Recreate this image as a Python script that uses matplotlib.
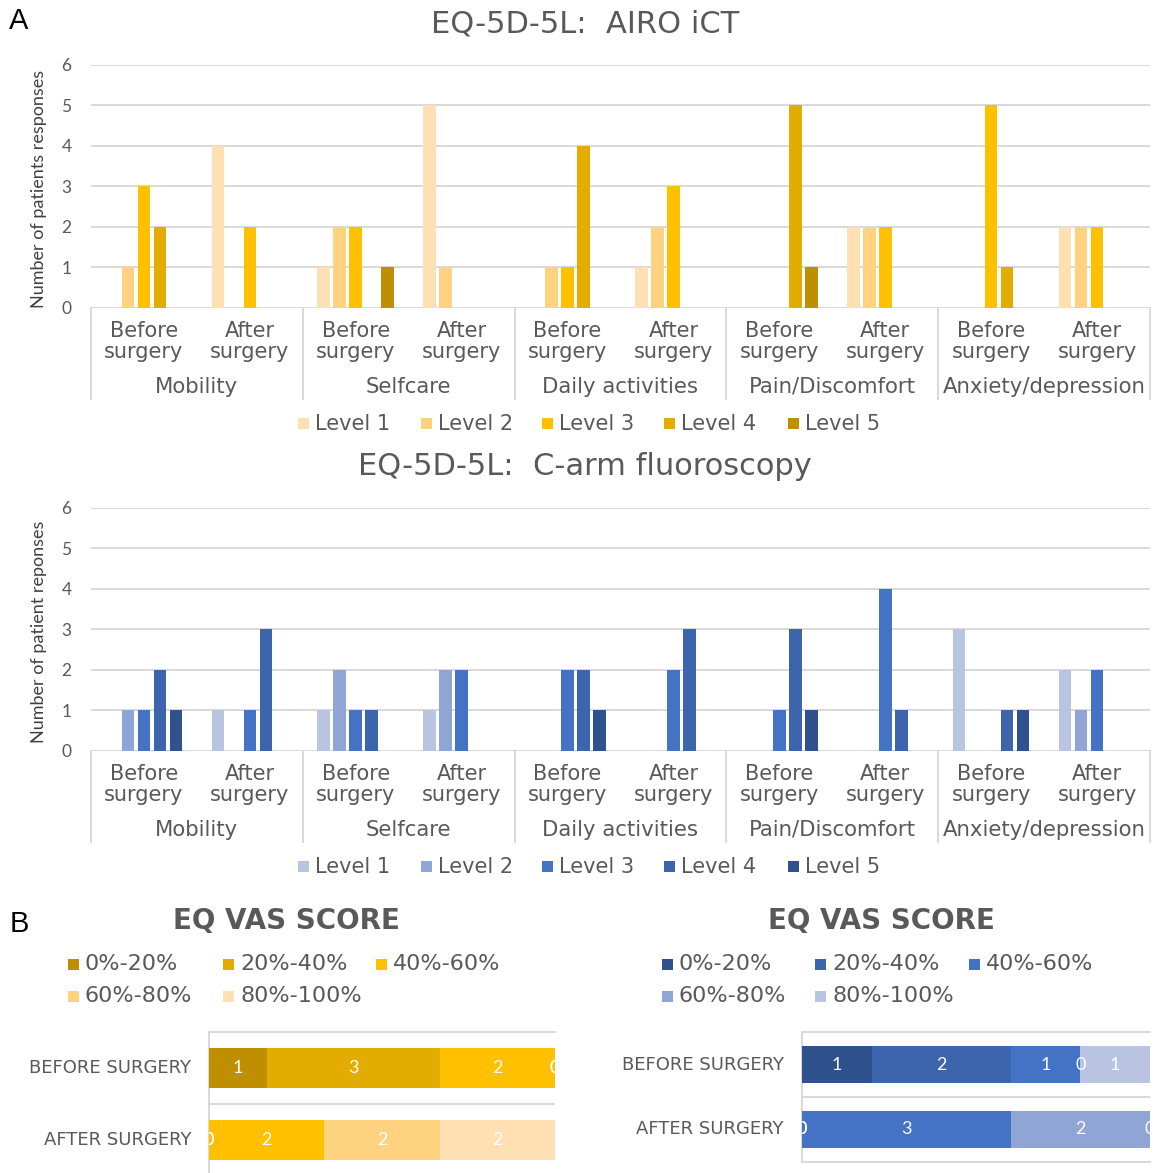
import matplotlib
matplotlib.use("Agg")
import matplotlib.pyplot as plt
import matplotlib.transforms as mtransforms
from matplotlib.patches import Rectangle
from matplotlib.lines import Line2D
import numpy as np

# ---------------------------------------------------------------- data
dimensions = ["Mobility", "Selfcare", "Daily activities", "Pain/Discomfort", "Anxiety/depression"]
timepoints = ["Before\nsurgery", "After\nsurgery"]
levels = ["Level 1", "Level 2", "Level 3", "Level 4", "Level 5"]

# counts per (dimension, timepoint) pair, in the order Mobility-Before, Mobility-After, ...
airo_level1 = [0, 4, 1, 5, 0, 1, 0, 2, 0, 2]
airo_level2 = [1, 0, 2, 1, 1, 2, 0, 2, 0, 2]
airo_level3 = [3, 2, 2, 0, 1, 3, 0, 2, 5, 2]
airo_level4 = [2, 0, 0, 0, 4, 0, 5, 0, 1, 0]
airo_level5 = [0, 0, 1, 0, 0, 0, 1, 0, 0, 0]

carm_level1 = [0, 1, 1, 1, 0, 0, 0, 0, 3, 2]
carm_level2 = [1, 0, 2, 2, 0, 0, 0, 0, 0, 1]
carm_level3 = [1, 1, 1, 2, 2, 2, 1, 4, 0, 2]
carm_level4 = [2, 3, 1, 0, 2, 3, 3, 1, 1, 0]
carm_level5 = [1, 0, 0, 0, 1, 0, 1, 0, 1, 0]

vas_bins = ["0%-20%", "20%-40%", "40%-60%", "60%-80%", "80%-100%"]
vas_rows = ["BEFORE SURGERY", "AFTER SURGERY"]
airo_vas_before = [1, 3, 2, 0, 0]
airo_vas_after = [0, 0, 2, 2, 2]
carm_vas_before = [1, 2, 1, 0, 1]
carm_vas_after = [0, 0, 3, 2, 0]

# ---------------------------------------------------------------- style
GOLD = ["#FFE0B3", "#FFD280", "#FFC000", "#E2AC00", "#BF8F00"]
BLUE = ["#B9C3E2", "#8FA5D5", "#4472C4", "#3C65AE", "#2F528F"]
TXT = "#595959"
GRID = "#D9D9D9"
CAL = ["Lato", "DejaVu Sans"]

W, H = 1155, 1173
fig = plt.figure(figsize=(W / 100, H / 100), dpi=100)
fig.patch.set_facecolor("white")


def px_axes(left, top, right, bottom):
    return fig.add_axes([left / W, 1 - bottom / H, (right - left) / W, (bottom - top) / H])


def fxy(x, y):
    return x / W, 1 - y / H


def legend_row(x_squares, y, labels, colors, size, fontsize):
    for xs, lab, col in zip(x_squares, labels, colors):
        fig.add_artist(Rectangle(fxy(xs, y + size / 2), size / W, size / H,
                                 transform=fig.transFigure, color=col, lw=0))
        fig.text(*fxy(xs + size + 6, y), lab, ha="left", va="center",
                 color=TXT, fontsize=fontsize)


def eq5d_panel(top, title, ylabel, series, colors):
    bottom = top + 243
    ax = px_axes(91, top, 1150, bottom)
    n = len(dimensions) * len(timepoints)
    x = np.arange(n)
    slot = 16 / 106
    bw = 12.6 / 106
    for i, (vals, col) in enumerate(zip(series, colors)):
        ax.bar(x + (i - 2) * slot, vals, width=bw, color=col, lw=0, zorder=3)
    ax.set_xlim(-0.5, n - 0.5)
    ax.set_ylim(0, 6)
    ax.set_yticks(range(7))
    ax.set_xticks([])
    ax.grid(axis="y", color=GRID, lw=1.4, zorder=0)
    ax.tick_params(axis="y", length=0, pad=14, labelcolor=TXT, labelsize=12.5)
    for lab in ax.get_yticklabels():
        lab.set_family(CAL)
    for s in ax.spines.values():
        s.set_visible(False)

    trans = mtransforms.blended_transform_factory(ax.transData, fig.transFigure)
    for j in range(n):
        ax.text(j, 1 - (bottom + 34) / H, timepoints[j % 2], transform=trans,
                ha="center", va="center", color=TXT, fontsize=15, linespacing=1.05)
    for k, dim in enumerate(dimensions):
        ax.text(2 * k + 0.5, 1 - (bottom + 79) / H, dim, transform=trans,
                ha="center", va="center", color=TXT, fontsize=15.3)
    for k in range(len(dimensions) + 1):
        xb = 2 * k - 0.5
        fig.add_artist(Line2D([xb, xb], [1 - bottom / H, 1 - (bottom + 91) / H],
                              transform=trans, color=GRID, lw=1.4))

    fig.text(*fxy(585, top - 41), title, ha="center", va="center",
             color=TXT, fontsize=22)
    fig.text(*fxy(39, top + 124), ylabel, rotation=90, ha="center", va="center",
             color="#404040", fontsize=13, family=CAL)
    legend_row([298, 421, 542, 664, 788], bottom + 116, levels, colors, 11, 15)


eq5d_panel(64.7, "EQ-5D-5L:  AIRO iCT", "Number of patients responses",
           [airo_level1, airo_level2, airo_level3, airo_level4, airo_level5], GOLD)
eq5d_panel(507.7, "EQ-5D-5L:  C-arm fluoroscopy", "Number of patient reponses",
           [carm_level1, carm_level2, carm_level3, carm_level4, carm_level5], BLUE)


def vas_panel(left, right, top, row_h, xmax, before, after, colors,
              title_x, label_right, legend_x1, legend_x2):
    ax = px_axes(left, top, right, top + 2 * row_h)
    dark_first = colors[::-1]
    for ypos, vals in ((1, before), (0, after)):
        start = np.concatenate([[0], np.cumsum(vals)[:-1]])
        ax.barh([ypos] * len(vals), vals, left=start, height=0.56,
                color=dark_first, lw=0, zorder=3)
        for s0, v in zip(start, vals):
            ax.text(s0 + v / 2, ypos, str(v), ha="center", va="center",
                    color="white", fontsize=13, family=CAL, clip_on=True, zorder=4)
    ax.set_xlim(0, xmax)
    ax.set_ylim(-0.5, 1.5)
    ax.set_xticks([])
    ax.set_yticks([])
    ax.axhline(0.5, color=GRID, lw=1.4, zorder=1)
    for side in ("left", "top", "bottom"):
        ax.spines[side].set_color(GRID)
        ax.spines[side].set_linewidth(1.4)
    ax.spines["right"].set_visible(False)

    for ypos, lab in ((1, vas_rows[0]), (0, vas_rows[1])):
        yp = top + (1.5 - ypos) * row_h
        fig.text(*fxy(label_right, yp), lab, ha="right", va="center",
                 color=TXT, fontsize=13)

    fig.text(*fxy(title_x, 921), "EQ VAS SCORE", ha="center", va="center",
             color=TXT, fontsize=20, fontweight="bold")
    legend_row(legend_x1, 964, vas_bins[:3], dark_first[:3], 11, 16)
    legend_row(legend_x2, 996, vas_bins[3:], dark_first[3:], 11, 16)


vas_panel(209, 555, 1032, 72, 6, airo_vas_before, airo_vas_after, GOLD,
          286, 191, [68, 223, 376], [68, 223])
vas_panel(802, 1150, 1032, 65, 5, carm_vas_before, carm_vas_after, BLUE,
          881, 784, [662, 815, 969], [662, 815])

fig.text(*fxy(9, 21), "A", ha="left", va="center", fontsize=21,
         family="Liberation Sans", color="black")
fig.text(*fxy(10, 924), "B", ha="left", va="center", fontsize=21,
         family="Liberation Sans", color="black")

fig.savefig("out.png", dpi=100, facecolor="white")
